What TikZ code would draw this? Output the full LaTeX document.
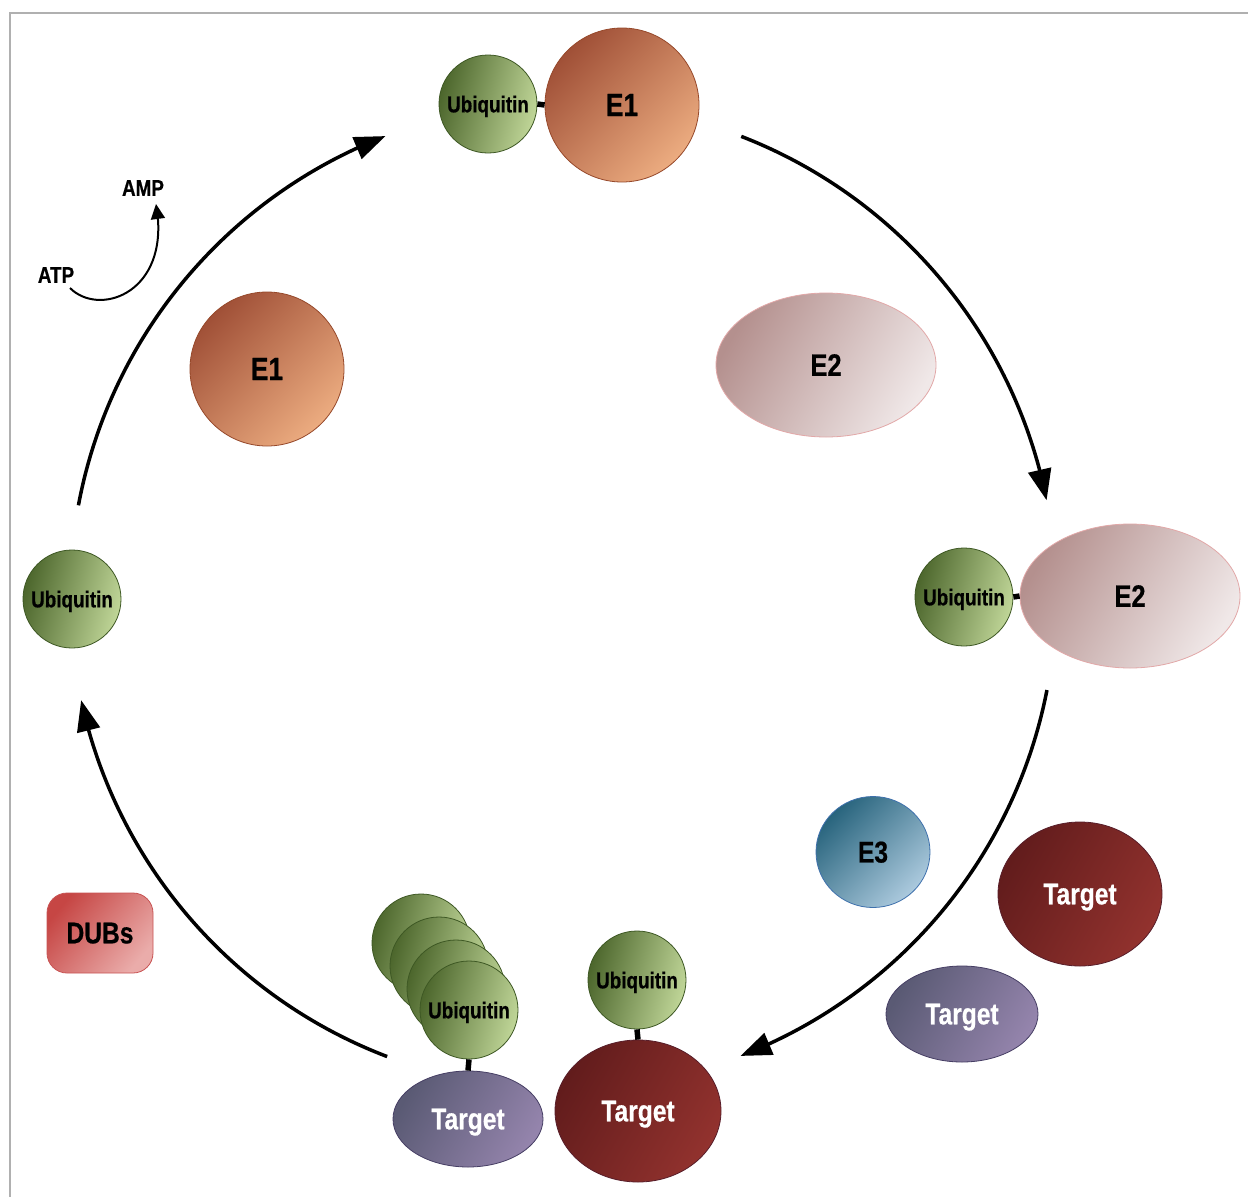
\documentclass[tikz,border=0pt]{standalone}
\usepackage{fontspec}
\newfontfamily\arialn[FakeStretch=0.82,FakeBold=0.6]{Liberation Sans}
\usetikzlibrary{shapes.geometric,arrows.meta,bending,calc}
\definecolor{ubqdark}{RGB}{76,102,44}
\definecolor{ubqlight}{RGB}{192,214,152}
\definecolor{ubqedge}{RGB}{62,88,36}
\definecolor{eonedark}{RGB}{160,80,55}
\definecolor{eonelight}{RGB}{236,172,128}
\definecolor{eoneedge}{RGB}{150,72,42}
\definecolor{etwodark}{RGB}{180,144,142}
\definecolor{etwolight}{RGB}{240,232,232}
\definecolor{etwoedge}{RGB}{226,168,168}
\definecolor{ethreedark}{RGB}{40,100,125}
\definecolor{ethreelight}{RGB}{172,202,222}
\definecolor{ethreeedge}{RGB}{62,112,172}
\definecolor{tgrdark}{RGB}{98,28,28}
\definecolor{tgrlight}{RGB}{146,50,46}
\definecolor{tgredge}{RGB}{88,30,42}
\definecolor{tgpdark}{RGB}{90,90,116}
\definecolor{tgplight}{RGB}{148,132,172}
\definecolor{tgpedge}{RGB}{70,62,100}
\definecolor{dubdark}{RGB}{198,70,68}
\definecolor{dublight}{RGB}{234,172,170}
\definecolor{dubedge}{RGB}{200,84,84}
\definecolor{framegray}{RGB}{176,176,176}
\begin{document}
\begin{tikzpicture}[x=1pt,y=-1pt,
  lbl/.style={font={\arialn\bfseries\fontsize{#1}{#1}\selectfont}, text depth=0pt},
  ubq/.style={circle, draw=ubqedge, line width=0.8pt, minimum size=98pt, inner sep=0pt,
    top color=ubqdark, bottom color=ubqlight, shading angle=75, lbl=23, text=black},
  eone/.style={circle, draw=eoneedge, line width=0.8pt, minimum size=154pt, inner sep=0pt,
    top color=eonedark, bottom color=eonelight, shading angle=45, lbl=32, text=black},
  etwo/.style={ellipse, draw=etwoedge, line width=0.8pt, minimum width=220pt, minimum height=144pt, inner sep=0pt,
    top color=etwodark, bottom color=etwolight, shading angle=60, lbl=31, text=black},
  ethree/.style={ellipse, draw=ethreeedge, line width=0.8pt, minimum width=114pt, minimum height=111pt, inner sep=0pt,
    top color=ethreedark, bottom color=ethreelight, shading angle=45, lbl=30, text=black},
  tgred/.style={ellipse, draw=tgredge, line width=0.8pt, inner sep=0pt,
    top color=tgrdark, bottom color=tgrlight, shading angle=60, lbl=30, text=white},
  tgpur/.style={ellipse, draw=tgpedge, line width=0.8pt, inner sep=0pt,
    top color=tgpdark, bottom color=tgplight, shading angle=60, lbl=30, text=white},
  dubbox/.style={rectangle, rounded corners=20pt, draw=dubedge, line width=0.8pt, minimum width=106pt, minimum height=80pt, inner sep=0pt,
    top color=dubdark, bottom color=dublight, shading angle=50, lbl=30, text=black},
  bond/.style={line width=5.5pt, black},
  cyc/.style={line width=3.5pt, -{Triangle[length=31pt,width=23pt]}},
  small/.style={line width=2pt, -{Triangle[length=15pt,width=14pt]}},
  plain/.style={lbl=23, text=black, inner sep=0pt}
]
\useasboundingbox (0,0) rectangle (1248,1197);
\fill[white] (0,0) rectangle (1248,1197);
% frame
\draw[framegray, line width=2pt] (1248,13) -- (10,13) -- (10,1197);

% cycle arrows
\coordinate (c) at (563,596);
\coordinate (s1) at ($(c)+(190.6:493)$);
\coordinate (s2) at ($(c)+(291.2:493)$);
\coordinate (s3) at ($(c)+(11.0:493)$);
\coordinate (s4) at ($(c)+(110.9:493)$);
\draw[cyc] (s1) arc[start angle=190.6, end angle=248.9, radius=493];
\draw[cyc] (s2) arc[start angle=291.2, end angle=348.8, radius=493];
\draw[cyc] (s3) arc[start angle=11.0, end angle=68.9, radius=493];
\draw[cyc] (s4) arc[start angle=110.9, end angle=167.8, radius=493];

% ATP -> AMP
\node[plain] (atp) at (56,275) {ATP};
\node[plain] (amp) at (143,188) {AMP};
\coordinate (atpend) at (70,288);
\coordinate (amptip) at (156,204);
\draw[small] (atpend) .. controls (100,318) and (172,292) .. (amptip);

% top: Ubiquitin-E1
\node[eone] (e1top) at (622,105) {E1};
\node[ubq] (u1) at (488,104) {Ubiquitin};
\draw[bond] (u1.east) -- (e1top.west);

% free E1
\node[eone] (e1free) at (267,369) {E1};

% free E2
\node[etwo] (e2free) at (826,365) {E2};

% right: Ubiquitin-E2
\node[etwo] (e2r) at (1130,596) {E2};
\node[ubq] (u2) at (964,597) {Ubiquitin};
\draw[bond] (u2.east) -- (e2r.west);

% left free ubiquitin
\node[ubq] (u0) at (72,599) {Ubiquitin};

% E3 and targets
\node[ethree] (e3) at (873,852) {E3};
\node[tgred, minimum width=164pt, minimum height=144pt] (t1) at (1080,894) {Target};
\node[tgpur, minimum width=152pt, minimum height=96pt] (t2) at (962,1014) {Target};

% DUBs
\node[dubbox] (dubs) at (100,933) {DUBs};

% mono-ubiquitinated target
\node[ubq] (um) at (637,980) {Ubiquitin};
\node[tgred, minimum width=166pt, minimum height=142pt] (tm) at (638,1111) {Target};
\draw[bond] (um.south) -- (tm.north);

% poly-ubiquitinated target
\node[ubq] (up1) at (421,943) {};
\node[ubq] (up2) at (439,966) {};
\node[ubq] (up3) at (456,989) {};
\node[ubq] (up4) at (469,1010) {Ubiquitin};
\node[tgpur, minimum width=150pt, minimum height=96pt] (tp) at (468,1119) {Target};
\draw[bond] (up4.south) -- (tp.north);
\end{tikzpicture}
\end{document}
